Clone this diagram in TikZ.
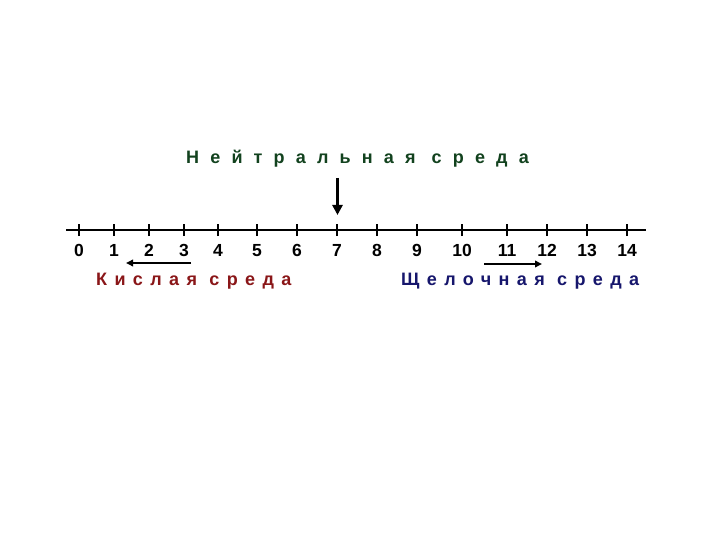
\documentclass[tikz,border=0pt]{standalone}
\usepackage{fontspec}
\setmainfont{Liberation Sans}
\usetikzlibrary{arrows.meta}
\definecolor{neutral}{RGB}{18,66,30}
\definecolor{acid}{RGB}{138,22,24}
\definecolor{alkali}{RGB}{22,22,108}
\newfontfamily\titlefont[LetterSpace=62]{Liberation Sans Bold}
\newfontfamily\labelfont[LetterSpace=41]{Liberation Sans Bold}
\begin{document}
\begin{tikzpicture}[x=1pt,y=-1pt,
  axis/.style={line width=2.6pt,black},
  tickmark/.style={line width=1.6pt,black},
  num/.style={anchor=base,inner sep=0pt,font=\fontsize{17.5}{20}\selectfont\bfseries},
  bigarrow/.style={line width=2.6pt,-{Triangle[length=10pt,width=10pt]}},
  smallarrow/.style={line width=1.8pt,-{Triangle[length=7pt,width=6.5pt]}},
  txt/.style={anchor=base west,inner sep=0pt}]
\useasboundingbox (0,0) rectangle (720,540);
\fill[white] (0,0) rectangle (720,540);
% axis
\coordinate (L) at (66,230);
\coordinate (R) at (646,230);
\draw[axis] (L) -- (R);
\foreach \i/\x in {0/79,1/114,2/149,3/184,4/218,5/257,6/297,7/337,8/377,9/417,10/462,11/507,12/547,13/587,14/627}{
  \coordinate (t\i) at (\x,230);
  \draw[tickmark] ([yshift=-6pt]t\i) -- ([yshift=6pt]t\i);
  \node[num] (n\i) at (\x,256.7) {\i};
}
% neutral
\node[txt,text=neutral] (neu) at (186,163.5) {\fontsize{18}{20}\titlefont Нейтральная среда};
\coordinate (va) at (337.5,178);
\coordinate (vb) at (337.5,215);
\draw[bigarrow] (va) -- (vb);
% acid
\coordinate (la) at (191,263);
\coordinate (lb) at (126,263);
\draw[smallarrow] (la) -- (lb);
\node[txt,text=acid] (acid) at (96,285.5) {\fontsize{18}{20}\labelfont Кислая среда};
% alkali
\coordinate (ra) at (484,264);
\coordinate (rb) at (542,264);
\draw[smallarrow] (ra) -- (rb);
\node[txt,text=alkali] (alk) at (401,285.5) {\fontsize{18}{20}\labelfont Щелочная среда};
\end{tikzpicture}
\end{document}
